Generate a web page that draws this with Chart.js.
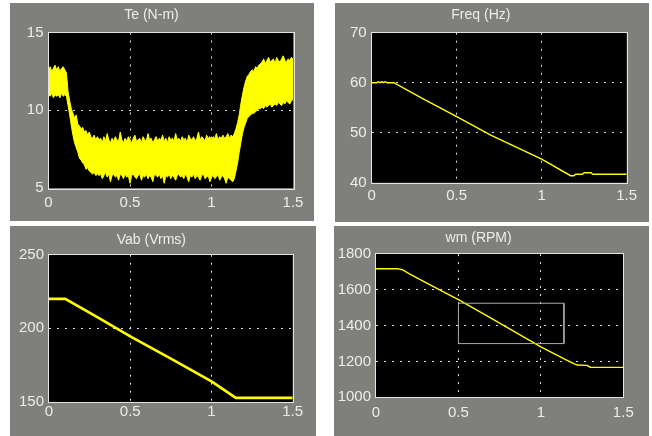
<!DOCTYPE html>
<html>
<head>
<meta charset="utf-8">
<title>Scope</title>
<script src="https://cdn.jsdelivr.net/npm/chart.js@4/dist/chart.umd.min.js"></script>
<style>
    html, body { margin: 0; padding: 0; background: #ffffff; }
    body { width: 652px; height: 436px; position: relative; overflow: hidden; }
    .panel { position: absolute; background: #7f807b; }
    .panel canvas { display: block; }
    #p1 { left: 10px; top: 3px; width: 304px; height: 218px; }
    #p2 { left: 335px; top: 3px; width: 314px; height: 219px; }
    #p3 { left: 10px; top: 226px; width: 306px; height: 210px; }
    #p4 { left: 334px; top: 226px; width: 315px; height: 210px; }
</style>
</head>
<body>
<div class="panel" id="p1"><canvas id="teChart" width="304" height="218"></canvas></div>
<div class="panel" id="p2"><canvas id="freqChart" width="314" height="219"></canvas></div>
<div class="panel" id="p3"><canvas id="vabChart" width="306" height="210"></canvas></div>
<div class="panel" id="p4"><canvas id="wmChart" width="315" height="210"></canvas></div>

<script>
// Time axis ticks (s), shared by all four scopes
const timeTicks = [0, 0.5, 1, 1.5];

// Te (N-m): band of the ripple, sampled every 10 ms from 0 to 1.5 s
const teUpper = [
    12.6, 12.8, 12.5, 12.7, 12.9, 12.6, 12.8, 12.5, 12.7, 12.8, 12.6,
    12.4, 11.2, 10.6, 10.1, 9.8, 9.5, 9.7, 9.1, 9.0, 8.8,
    8.9, 8.6, 8.7, 8.4, 8.6, 8.3, 8.2, 8.4, 8.1, 8.3,
    8.1, 8.2, 7.9, 8.3, 8.0, 8.5, 8.1, 7.9, 8.2, 8.0,
    8.3, 8.1, 8.0, 8.6, 8.1, 7.9, 8.2, 8.0, 8.3, 8.1,
    7.9, 8.2, 8.4, 8.0, 8.1, 8.2, 7.9, 8.3, 8.1, 8.0,
    8.5, 8.1, 8.2, 7.9, 8.1, 8.3, 8.0, 8.2, 8.1, 8.4,
    8.0, 8.2, 7.9, 8.3, 8.1, 8.2, 8.0, 8.5, 8.1, 8.2,
    8.0, 8.3, 8.1, 8.2, 7.9, 8.4, 8.2, 8.1, 8.3, 8.0,
    8.2, 8.6, 8.1, 8.3, 8.2, 8.0, 8.4, 8.2, 8.3, 8.1,
    8.3, 8.2, 8.5, 8.1, 8.3, 8.2, 8.4, 8.2, 8.3, 8.5,
    8.2, 8.4, 8.3,
    8.5, 8.8, 9.2, 9.7, 10.4, 11.0, 11.5, 11.9, 12.2, 12.3,
    12.5, 12.6, 12.5, 12.8, 12.7, 12.9, 13.0,
    13.1, 13.3, 13.0, 13.2, 13.4, 13.1, 13.2, 13.3, 13.0, 13.4,
    13.2, 13.1, 13.3, 13.5, 13.2, 13.1, 13.3, 13.2, 13.4, 13.3
];
const teLower = [
    11.0, 10.9, 11.1, 10.8, 11.0, 10.9, 11.0, 10.8, 11.1, 10.9, 11.0,
    10.9, 10.3, 9.7, 9.0, 8.4, 7.9, 7.6, 7.3, 6.9, 6.8,
    6.6, 6.5, 6.2, 6.3, 6.1, 6.0, 5.9, 6.0, 5.8, 5.9,
    5.8, 5.9, 5.6, 5.8, 6.0, 5.7, 5.9, 5.4, 5.8, 5.9,
    5.7, 5.8, 5.5, 5.9, 5.8, 5.6, 5.9, 5.7, 5.8, 5.3,
    5.8, 5.9, 5.7, 5.6, 5.8, 5.9, 5.5, 5.8, 5.7, 5.9,
    5.6, 5.8, 5.7, 5.4, 5.9, 5.8, 5.7, 5.9, 5.6, 5.8,
    5.3, 5.8, 5.7, 5.9, 5.6, 5.8, 5.7, 5.5, 5.8, 5.9,
    5.7, 5.8, 5.6, 5.9, 5.7, 5.4, 5.8, 5.7, 5.9, 5.6,
    5.8, 5.7, 5.5, 5.8, 5.9, 5.6, 5.7, 5.8, 5.4, 5.7,
    5.8, 5.6, 5.7, 5.9, 5.5, 5.7, 5.8, 5.6, 5.3, 5.7,
    5.6, 5.5, 5.4,
    5.6, 6.1, 6.6, 7.3, 7.9, 8.5, 8.9, 9.2, 9.5, 9.6,
    9.7, 9.8, 9.8, 9.9, 10.0, 10.1, 10.1,
    10.2, 10.1, 10.3, 10.2, 10.3, 10.4, 10.2, 10.3, 10.4, 10.3,
    10.5, 10.4, 10.3, 10.5, 10.4, 10.6, 10.5, 10.4, 10.6, 10.7
];
const teTicks = [5, 10, 15];

// Freq (Hz)
const freqTime = [0, 0.03, 0.04, 0.05, 0.06, 0.07, 0.08, 0.09, 0.13, 0.3, 0.5, 0.7, 1.0, 1.17, 1.19, 1.2, 1.24, 1.25, 1.29, 1.3, 1.5];
const freqValues = [60, 60, 60.2, 60, 60.2, 60, 60.2, 60, 60, 56.8, 53.2, 49.5, 44.7, 41.4, 41.4, 41.7, 41.7, 42.0, 42.0, 41.7, 41.7];
const freqTicks = [40, 50, 60, 70];

// Vab (Vrms)
const vabTime = [0, 0.1, 0.3, 0.5, 0.75, 1.0, 1.15, 1.5];
const vabValues = [220, 220, 207.5, 194.6, 179.5, 164, 152.8, 152.8];
const vabTicks = [150, 200, 250];

// wm (RPM)
const wmTime = [0, 0.13, 0.16, 0.2, 0.3, 0.4, 0.5, 0.7, 1.0, 1.15, 1.2, 1.22, 1.28, 1.3, 1.5];
const wmValues = [1718, 1718, 1712, 1690, 1642, 1593, 1545, 1441, 1281, 1210, 1188, 1180, 1178, 1168, 1167];
const wmTicks = [1000, 1200, 1400, 1600, 1800];
// zoom box drawn on the wm scope (time, rpm corners)
const wmBoxTime = [0.5, 0.5, 1.14, 1.14, 0.5];
const wmBoxValues = [1300, 1525, 1525, 1300, 1300];

const TRACE = '#ffff00';
const TEXT = '#ececec';
const FONT = "'Liberation Sans', Arial, sans-serif";

function toPoints(xs, ys) {
    return ys.map((y, i) => ({ x: xs[i], y: y }));
}

const teTime = teUpper.map((_, i) => i / 100);

// black plot area + solid frame round it
const scopeFrame = {
    id: 'scopeFrame',
    beforeDraw(chart) {
        const a = chart.chartArea;
        const ctx = chart.ctx;
        ctx.save();
        ctx.fillStyle = '#000000';
        ctx.fillRect(a.left, a.top, a.right - a.left, a.bottom - a.top);
        ctx.restore();
    },
    afterDraw(chart) {
        const a = chart.chartArea;
        const ctx = chart.ctx;
        ctx.save();
        ctx.strokeStyle = '#e4e4e4';
        ctx.lineWidth = 1;
        ctx.strokeRect(Math.round(a.left) - 0.5, Math.round(a.top) - 0.5,
            Math.round(a.right - a.left) + 1, Math.round(a.bottom - a.top) + 1);
        ctx.restore();
    }
};

// only the inner ticks get a dotted grid line
function innerGrid(ctx) {
    if (!ctx.tick) return 'transparent';
    const v = ctx.tick.value;
    if (v === ctx.scale.min || v === ctx.scale.max) return 'transparent';
    return '#dcdcdc';
}

function makeScope(id, opts) {
    const ctx = document.getElementById(id).getContext('2d');
    return new Chart(ctx, {
        type: 'line',
        data: { datasets: opts.datasets },
        options: {
            responsive: false,
            animation: false,
            events: [],
            layout: { padding: { top: 0, right: opts.padRight, bottom: 0, left: 0 } },
            plugins: {
                legend: { display: false },
                tooltip: { enabled: false },
                title: {
                    display: true,
                    text: opts.title,
                    color: TEXT,
                    font: { family: FONT, size: 14, weight: 'normal', lineHeight: 1.2 },
                    padding: { top: opts.titleTop, bottom: opts.titleBottom }
                }
            },
            scales: {
                x: {
                    type: 'linear',
                    min: 0,
                    max: 1.5,
                    afterBuildTicks: s => { s.ticks = timeTicks.map(v => ({ value: v })); },
                    afterFit: s => { s.height = opts.xHeight; },
                    grid: { color: innerGrid, lineWidth: 1, drawTicks: false },
                    border: { display: false, dash: [2, 6] },
                    ticks: {
                        color: TEXT,
                        padding: opts.xPad,
                        maxRotation: 0,
                        autoSkip: false,
                        font: { family: FONT, size: 15 },
                        callback: v => String(v)
                    }
                },
                y: {
                    min: opts.yTicks[0],
                    max: opts.yTicks[opts.yTicks.length - 1],
                    afterBuildTicks: s => { s.ticks = opts.yTicks.map(v => ({ value: v })); },
                    afterFit: s => { s.width = opts.yWidth; },
                    grid: { color: innerGrid, lineWidth: 1, drawTicks: false },
                    border: { display: false, dash: [2, 6] },
                    ticks: {
                        color: TEXT,
                        padding: 5,
                        autoSkip: false,
                        font: { family: FONT, size: 15 },
                        callback: v => String(v)
                    }
                }
            }
        },
        plugins: [scopeFrame]
    });
}

function trace(points, width) {
    return {
        data: points,
        borderColor: TRACE,
        borderWidth: width,
        pointRadius: 0,
        tension: 0,
        fill: false
    };
}

document.addEventListener('DOMContentLoaded', function() {
    // Te: upper and lower edge of the ripple, filled between
    const teTop = trace(toPoints(teTime, teUpper), 1);
    const teBottom = trace(toPoints(teTime, teLower), 1);
    teBottom.fill = '-1';
    teBottom.backgroundColor = TRACE;

    makeScope('teChart', {
        title: 'Te (N-m)',
        datasets: [teTop, teBottom],
        yTicks: teTicks,
        yWidth: 38.5,
        padRight: 21,
        xHeight: 33,
        xPad: 6,
        titleTop: 3.6,
        titleBottom: 9.1
    });

    makeScope('freqChart', {
        title: 'Freq (Hz)',
        datasets: [trace(toPoints(freqTime, freqValues), 1.4)],
        yTicks: freqTicks,
        yWidth: 36.7,
        padRight: 22.3,
        xHeight: 39.3,
        xPad: 4,
        titleTop: 3.6,
        titleBottom: 9.3
    });

    makeScope('vabChart', {
        title: 'Vab (Vrms)',
        datasets: [trace(toPoints(vabTime, vabValues), 2.6)],
        yTicks: vabTicks,
        yWidth: 39,
        padRight: 23.3,
        xHeight: 34,
        xPad: 1,
        titleTop: 5.3,
        titleBottom: 6.6
    });

    const box = trace(toPoints(wmBoxTime, wmBoxValues), 1);
    box.borderColor = '#a9a9a9';
    makeScope('wmChart', {
        title: 'wm (RPM)',
        datasets: [box, trace(toPoints(wmTime, wmValues), 1.4)],
        yTicks: wmTicks,
        yWidth: 42,
        padRight: 25.7,
        xHeight: 38.7,
        xPad: 7,
        titleTop: 3.6,
        titleBottom: 7.6
    });
});
</script>
</body>
</html>
